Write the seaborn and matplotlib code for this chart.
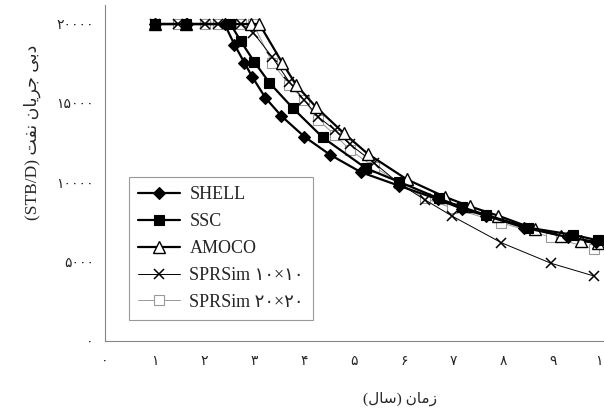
import numpy as np
import pandas as pd
import seaborn as sns
import matplotlib.pyplot as plt

sns.set_style("white")
plt.rcParams['font.family'] = ['Liberation Serif', 'DejaVu Sans']

# Persian digits for tick labels
fa = str.maketrans('0123456789', '۰۱۲۳۴۵۶۷۸۹')

# time (years) and oil rate (STB/D)
shell_t = [1.0, 1.64, 2.4, 2.6, 2.8, 2.96, 3.22, 3.54, 4.0, 4.52, 5.14, 5.9, 6.68, 7.16, 7.66, 8.42, 9.3, 9.86]
shell_q = [20000, 20000, 20000, 18700, 17550, 16650, 15350, 14200, 12900, 11750, 10650, 9800, 8950, 8350, 7900, 7150, 6550, 6250]

ssc_t = [1.0, 1.62, 2.52, 2.73, 3.0, 3.3, 3.77, 4.37, 5.24, 5.9, 6.7, 7.16, 7.66, 8.5, 9.4, 9.9]
ssc_q = [20000, 20000, 20000, 18900, 17600, 16300, 14700, 12850, 10900, 10050, 9000, 8450, 7950, 7150, 6700, 6350]

amoco_t = [1.0, 1.62, 2.94, 3.1, 3.56, 3.84, 4.24, 4.8, 5.28, 6.06, 6.82, 7.32, 7.9, 8.64, 9.16, 9.56, 9.9]
amoco_q = [20000, 20000, 20000, 20000, 17550, 16150, 14750, 13100, 11800, 10200, 9100, 8500, 7900, 7050, 6650, 6300, 6200]

spr_t = [1.0, 1.46, 2.0, 2.26, 2.74, 2.98, 3.36, 3.7, 4.0, 4.28, 4.62, 4.92, 5.4, 5.9, 6.43, 6.96, 7.96, 8.96, 9.82]
spr10_q = [20000, 20000, 20000, 20000, 20000, 19450, 17900, 16350, 15200, 14150, 13300, 12400, 11250, 9950, 8900, 7900, 6200, 4900, 4100]
spr20_q = [20000, 20000, 20000, 20000, 20000, 20000, 17550, 16150, 15200, 13950, 13000, 12050, 11000, 10000, 9000, 8400, 7450, 6550, 5800]

labels = ['SHELL', 'SSC', 'AMOCO', 'SPRSim ۱۰×۱۰', 'SPRSim ۲۰×۲۰']

fig = plt.figure(figsize=(6.04, 4.09), dpi=100)
ax = fig.add_axes([105/604, 68/409, 498/604, 336/409])

styles = [
    dict(color='black', linewidth=1.6, marker='D', markersize=6, markerfacecolor='black',
         markeredgecolor='black', markeredgewidth=0.8, zorder=5),
    dict(color='black', linewidth=1.6, marker='s', markersize=7.5, markerfacecolor='black',
         markeredgecolor='black', markeredgewidth=0.8, zorder=4),
    dict(color='black', linewidth=1.6, marker='^', markersize=8, markerfacecolor='white',
         markeredgecolor='black', markeredgewidth=1.0, zorder=3),
    dict(color='black', linewidth=0.7, marker='x', markersize=7, markeredgecolor='black',
         markeredgewidth=1.1, zorder=2),
    dict(color='#999999', linewidth=0.7, marker='s', markersize=7, markerfacecolor='white',
         markeredgecolor='#999999', markeredgewidth=0.8, zorder=1),
]
data = [(shell_t, shell_q), (ssc_t, ssc_q), (amoco_t, amoco_q), (spr_t, spr10_q), (spr_t, spr20_q)]

for (t, q), lab, st in zip(data, labels, styles):
    sns.lineplot(x=t, y=q, ax=ax, sort=False, estimator=None, label=lab, clip_on=False, **st)

ax.set_xlim(0, 10)
ax.set_ylim(0, 21200)
ax.set_xticks(range(11), [str(i).translate(fa) for i in range(11)])
yt = [0, 5000, 10000, 15000, 20000]
ax.set_yticks(yt, [str(v).translate(fa) for v in yt])

for s in ['top', 'right']:
    ax.spines[s].set_visible(False)
for s in ['left', 'bottom']:
    ax.spines[s].set_color('#868686')
    ax.spines[s].set_linewidth(0.8)
ax.tick_params(direction='out', length=5, width=0.8, color='#868686', labelsize=10)
ax.tick_params(axis='x', pad=5)
ax.tick_params(axis='y', pad=3)

# Arabic text in visual (shaped, left-to-right) order
ylab = '(STB/D) ' + '\ufe96\ufed4\ufee7' + ' ' + '\ufee5\ufe8e\ufef3\ufeae\ufe9f' + ' ' + '\ufef0\ufe91\ufea9'
xlab = '(' + '\ufedd\ufe8e\ufeb3' + ') ' + '\ufee5\ufe8e\ufee3\ufeaf'
ax.set_ylabel(ylab, fontsize=12.5, va='center')
ax.yaxis.set_label_coords(-0.145, 0.622)
ax.set_xlabel(xlab, fontsize=11, va='center')
ax.xaxis.set_label_coords(0.592, -0.173)

leg = ax.legend(loc='upper left', bbox_to_anchor=(129/604, 1 - 177/409),
                bbox_transform=fig.transFigure, frameon=True, fancybox=False,
                edgecolor='#808080', fontsize=13, handlelength=2.3,
                handletextpad=0.55, labelspacing=0.55, borderpad=0.5, borderaxespad=0)
leg.get_frame().set_linewidth(0.8)

fig.savefig('out.png', dpi=100)
